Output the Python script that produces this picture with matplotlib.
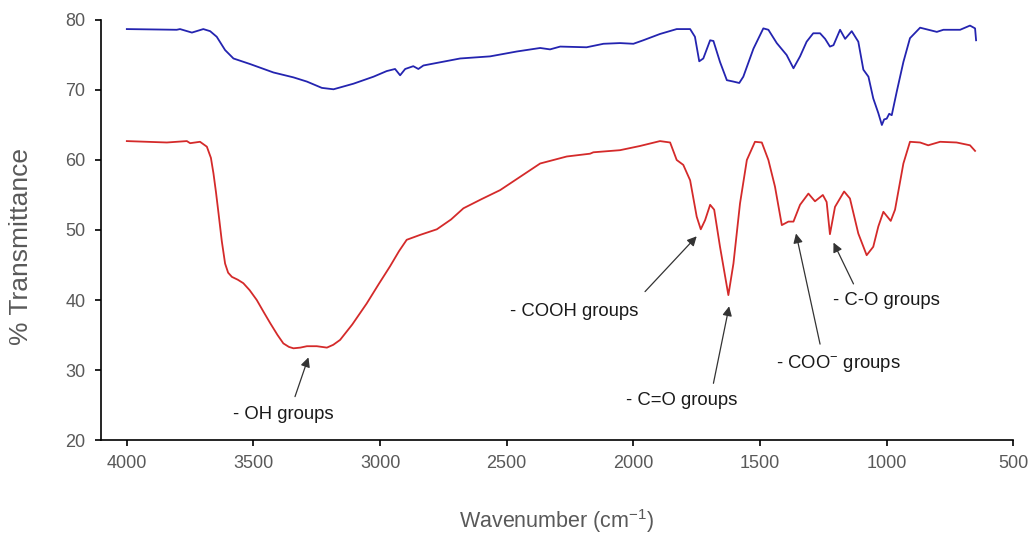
import matplotlib
matplotlib.use("Agg")
import matplotlib.pyplot as plt

plt.rcParams['font.family'] = ['Liberation Sans', 'DejaVu Sans']
plt.rcParams['mathtext.fontset'] = 'custom'
plt.rcParams['mathtext.rm'] = 'Liberation Sans'
plt.rcParams['mathtext.it'] = 'Liberation Sans'

# top spectrum (blue)
wn_blue = [4000, 3803, 3790, 3743, 3698, 3671, 3645, 3612, 3579, 3513, 3421, 3342,
           3289, 3230, 3184, 3105, 3026, 2974, 2941, 2921, 2901, 2869, 2849, 2829,
           2684, 2566, 2460, 2368, 2329, 2289, 2185, 2118, 2053, 2000, 1961, 1895,
           1829, 1776, 1757, 1740, 1724, 1697, 1684, 1658, 1631, 1605, 1582, 1566,
           1526, 1487, 1467, 1434, 1395, 1368, 1342, 1316, 1290, 1263, 1243, 1224,
           1210, 1184, 1164, 1138, 1112, 1092, 1072, 1053, 1033, 1019, 1010, 1000,
           990, 980, 960, 934, 908, 868, 802, 776, 710, 671, 651, 647]
t_blue = [78.7, 78.6, 78.7, 78.2, 78.7, 78.4, 77.6, 75.7, 74.5, 73.7, 72.5, 71.8,
          71.2, 70.3, 70.1, 70.9, 71.9, 72.7, 73.0, 72.1, 73.0, 73.4, 73.0, 73.5,
          74.5, 74.8, 75.5, 76.0, 75.8, 76.2, 76.1, 76.6, 76.7, 76.6, 77.1, 78.0,
          78.7, 78.7, 77.6, 74.1, 74.5, 77.1, 77.0, 74.0, 71.4, 71.2, 71.0, 71.9,
          75.9, 78.8, 78.6, 76.7, 75.0, 73.1, 74.8, 76.9, 78.1, 78.1, 77.3, 76.2,
          76.4, 78.6, 77.3, 78.4, 76.9, 72.9, 71.9, 68.8, 66.7, 65.0, 65.8, 65.9,
          66.6, 66.4, 69.8, 74.0, 77.4, 78.9, 78.3, 78.6, 78.6, 79.2, 78.8, 77.1]

# bottom spectrum (red)
wn_red = [4000, 3842, 3763, 3750, 3711, 3684, 3668, 3658, 3648, 3638, 3625, 3612,
          3600, 3585, 3562, 3540, 3515, 3487, 3460, 3434, 3405, 3382, 3360, 3342,
          3315, 3289, 3250, 3210, 3185, 3158, 3110, 3053, 3005, 2961, 2925, 2895,
          2842, 2776, 2720, 2671, 2600, 2526, 2447, 2368, 2263, 2171, 2158, 2053,
          1974, 1895, 1855, 1829, 1803, 1776, 1750, 1734, 1717, 1697, 1681, 1658,
          1625, 1605, 1579, 1552, 1520, 1493, 1467, 1441, 1414, 1388, 1368, 1342,
          1309, 1283, 1252, 1237, 1224, 1204, 1168, 1145, 1112, 1079, 1053, 1033,
          1013, 984, 967, 934, 908, 868, 836, 789, 724, 671, 651]
t_red = [62.7, 62.5, 62.7, 62.4, 62.6, 61.9, 60.3, 58.1, 55.4, 52.4, 48.4, 45.2,
         43.9, 43.3, 42.9, 42.4, 41.4, 40.0, 38.3, 36.7, 35.0, 33.8, 33.3, 33.1,
         33.2, 33.4, 33.4, 33.2, 33.6, 34.3, 36.5, 39.5, 42.3, 44.8, 47.0, 48.6,
         49.3, 50.1, 51.5, 53.1, 54.4, 55.7, 57.6, 59.5, 60.5, 60.9, 61.1, 61.4,
         62.0, 62.7, 62.5, 60.0, 59.3, 57.1, 51.9, 50.1, 51.4, 53.6, 52.9, 47.6,
         40.7, 45.2, 53.8, 60.0, 62.6, 62.5, 60.0, 56.2, 50.7, 51.2, 51.2, 53.6,
         55.2, 54.1, 55.0, 54.0, 49.4, 53.3, 55.5, 54.5, 49.5, 46.4, 47.6, 50.5,
         52.6, 51.3, 52.9, 59.5, 62.6, 62.5, 62.1, 62.6, 62.5, 62.1, 61.3]

# annotations: label, arrow tip (wn, T), arrow tail (wn, T), text position (wn, T)
labels = ['- OH groups', '- COOH groups', '- C=O groups', r'- COO$^{-}$ groups', '- C-O groups']
tips = [(3283, 31.8), (1750, 49.1), (1622, 39.1), (1358, 49.5), (1210, 48.2)]
tails = [(3336, 26.2), (1954, 41.2), (1684, 28.1), (1263, 33.7), (1131, 42.3)]
text_pos = [(3383, 23.7), (2233, 38.4), (1809, 25.6), (1190, 31.0), (1000, 39.9)]

fig = plt.figure(figsize=(10.3, 5.37), dpi=100)
ax = fig.add_axes([0.0978, 0.1806, 0.886, 0.7822])

ax.plot(wn_blue, t_blue, color='#2424b0', lw=1.3)
ax.plot(wn_red, t_red, color='#d42a2a', lw=1.3)

for lab, tip, tail, tp in zip(labels, tips, tails, text_pos):
    ax.annotate('', xy=tip, xytext=tail,
                arrowprops=dict(arrowstyle='-|>', color='#333333', lw=0.9,
                                mutation_scale=14, shrinkA=0, shrinkB=0))
    ax.text(tp[0], tp[1], lab, fontsize=13.3, color='#1a1a1a',
            ha='center', va='center')

ax.set_xlim(4103, 500)
ax.set_ylim(20, 80)
ax.set_xticks([4000, 3500, 3000, 2500, 2000, 1500, 1000, 500])
ax.set_yticks([20, 30, 40, 50, 60, 70, 80])

for s in ['top', 'right']:
    ax.spines[s].set_visible(False)
for s in ['left', 'bottom']:
    ax.spines[s].set_color('black')
    ax.spines[s].set_linewidth(1.2)

ax.tick_params(axis='both', direction='out', length=4, width=1.2, color='black',
               labelsize=13, labelcolor='#595959', pad=7)

ax.set_xlabel(r'Wavenumber (cm$^{-1}$)', fontsize=15.5, color='#595959', labelpad=25)
ax.set_ylabel('% Transmittance', fontsize=19, color='#595959')
ax.yaxis.set_label_coords(-0.074, 0.46)

fig.savefig('out.png', dpi=100)
